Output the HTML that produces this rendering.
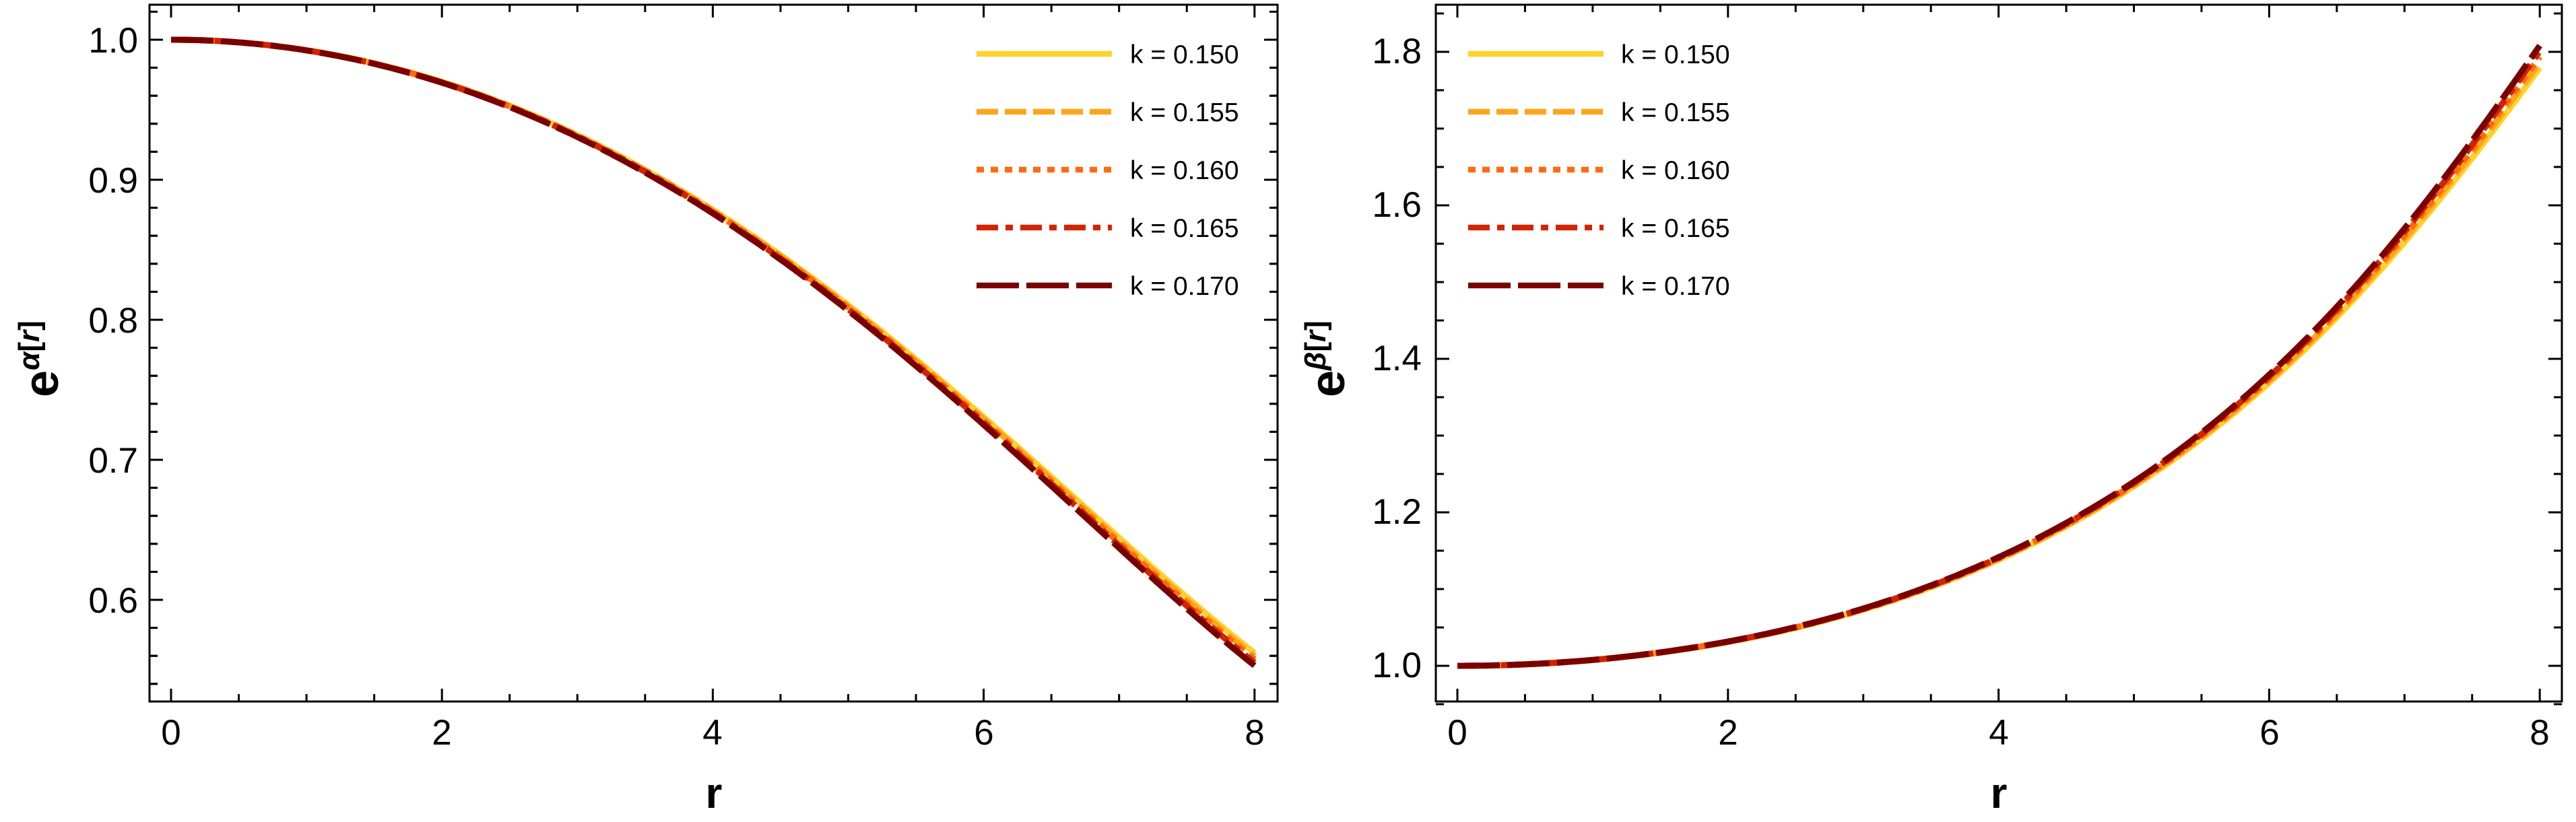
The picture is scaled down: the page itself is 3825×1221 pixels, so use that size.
<!DOCTYPE html>
<html><head><meta charset="utf-8"><style>
html,body{margin:0;padding:0;background:#fff;}
svg{display:block;}
text{font-family:"Liberation Sans",Arial,sans-serif;fill:#000;}
</style></head><body>
<svg id="s" width="3825" height="1221" viewBox="0 0 3825 1221" xmlns="http://www.w3.org/2000/svg">
<g id="g"></g>
<g font-size="53">
<text x="205" y="78" text-anchor="end">1.0</text>
<text x="205" y="286" text-anchor="end">0.9</text>
<text x="205" y="494" text-anchor="end">0.8</text>
<text x="205" y="702" text-anchor="end">0.7</text>
<text x="205" y="910" text-anchor="end">0.6</text>
<text x="254" y="1106" text-anchor="middle">0</text>
<text x="656" y="1106" text-anchor="middle">2</text>
<text x="1058" y="1106" text-anchor="middle">4</text>
<text x="1461" y="1106" text-anchor="middle">6</text>
<text x="1863" y="1106" text-anchor="middle">8</text>
<text x="2111" y="94" text-anchor="end">1.8</text>
<text x="2111" y="322" text-anchor="end">1.6</text>
<text x="2111" y="550" text-anchor="end">1.4</text>
<text x="2111" y="778" text-anchor="end">1.2</text>
<text x="2111" y="1006" text-anchor="end">1.0</text>
<text x="2164" y="1106" text-anchor="middle">0</text>
<text x="2566" y="1106" text-anchor="middle">2</text>
<text x="2968" y="1106" text-anchor="middle">4</text>
<text x="3370" y="1106" text-anchor="middle">6</text>
<text x="3771" y="1106" text-anchor="middle">8</text>
</g>
<text x="1060" y="1200" font-size="64" font-weight="bold" text-anchor="middle">r</text>
<text x="2968" y="1200" font-size="64" font-weight="bold" text-anchor="middle">r</text>
<text transform="translate(86,590) rotate(-90)" font-weight="bold"><tspan font-size="72">e</tspan><tspan font-size="44" dy="-28" font-style="italic">α</tspan><tspan font-size="44">[</tspan><tspan font-size="44" font-style="italic">r</tspan><tspan font-size="44">]</tspan></text>
<text transform="translate(1996,590) rotate(-90)" font-weight="bold"><tspan font-size="72">e</tspan><tspan font-size="44" dy="-28" font-style="italic">β</tspan><tspan font-size="44">[</tspan><tspan font-size="44" font-style="italic">r</tspan><tspan font-size="44">]</tspan></text>
<g font-size="39" id="leg"></g>
</svg>
<script>
var NS="http://www.w3.org/2000/svg",g=document.getElementById('g'),leg=document.getElementById('leg');
function el(t,a,p){var e=document.createElementNS(NS,t);for(var k in a)e.setAttribute(k,a[k]);(p||g).appendChild(e);return e;}
var ser=[{k:'0.150',c:'#FFD22A',d:'',v:0.562},{k:'0.155',c:'#FFA51A',d:'32 10',v:0.5597},{k:'0.160',c:'#FF6A0E',d:'11 10',v:0.5575},{k:'0.165',c:'#D22400',d:'32 11 11 11',v:0.5552},{k:'0.170',c:'#7A0000',d:'63 11',v:0.553}];
function base(r){var u=r*r;return 1-0.007624*u-0.0000138*u*u+3.72e-7*u*u*u;}
function panel(L,R,T,B,x0,ux,yv,uy,ymin,ymax,ymaj,ymin2,right){
 ser.forEach(function(s){var sc=(1-s.v)/0.447,p='';
  for(var i=0;i<=200;i++){var r=8*i/200,f=1-(1-base(r))*sc;if(right)f=1/f;
   p+=(i?'L':'M')+(x0+r*ux).toFixed(1)+' '+(yv-(f-ymin)*uy).toFixed(1);}
  var a={d:p,fill:'none',stroke:s.c,'stroke-width':9};if(s.d)a['stroke-dasharray']=s.d;el('path',a);});
 el('rect',{x:L,y:T,width:R-L,height:B-T,fill:'none',stroke:'#000','stroke-width':3});
 for(var r=0;r<=8.001;r+=0.5){var x=x0+r*ux,m=Math.abs(r-Math.round(r/2)*2)<1e-6,l=m?19:11;
  el('line',{x1:x,x2:x,y1:B,y2:B-l,stroke:'#000','stroke-width':3});el('line',{x1:x,x2:x,y1:T,y2:T+l,stroke:'#000','stroke-width':3});}
 for(var v=ymin2;v<=ymax+1e-9;v+=ymin2){var y=yv-(v-ymin)*uy;if(y<T||y>B)continue;var m=Math.abs(v/ymaj-Math.round(v/ymaj))<1e-4,l=m?20:12;
  el('line',{x1:L,x2:L+l,y1:y,y2:y,stroke:'#000','stroke-width':3});el('line',{x1:R,x2:R-l,y1:y,y2:y,stroke:'#000','stroke-width':3});}
}
panel(222,1897,7,1042,254,201.1,59,2080,1.0,1.06,0.1,0.02,false);
panel(2132,3804,7,1042,2164,200.9,989,1140,1.0,1.86,0.2,0.05,true);
function yt(L,R,yv,uy,vals,maj){vals.forEach(function(v){var y=yv+v*uy,m=maj(v),l=m?20:12;
 el('line',{x1:L,x2:L+l,y1:y,y2:y,stroke:'#000','stroke-width':3});el('line',{x1:R,x2:R-l,y1:y,y2:y,stroke:'#000','stroke-width':3});});}
var lv=[];for(var i=1;i<=23;i++)lv.push(i*0.02);
yt(222,1897,59,2080,lv,function(v){return Math.abs(v/0.1-Math.round(v/0.1))<1e-4;});
yt(2132,3804,989,1140,[0.05],function(){return false;});
[[1450,1678],[2180,2407]].forEach(function(p){ser.forEach(function(s,i){var y=80+86*i;
 var a={x1:p[0],x2:p[0]+201,y1:y,y2:y,stroke:s.c,'stroke-width':8.5};if(s.d)a['stroke-dasharray']=s.d;el('line',a);
 var t=el('text',{x:p[1],y:y+14},leg);t.textContent='k = '+s.k;});});
</script>
</body></html>
